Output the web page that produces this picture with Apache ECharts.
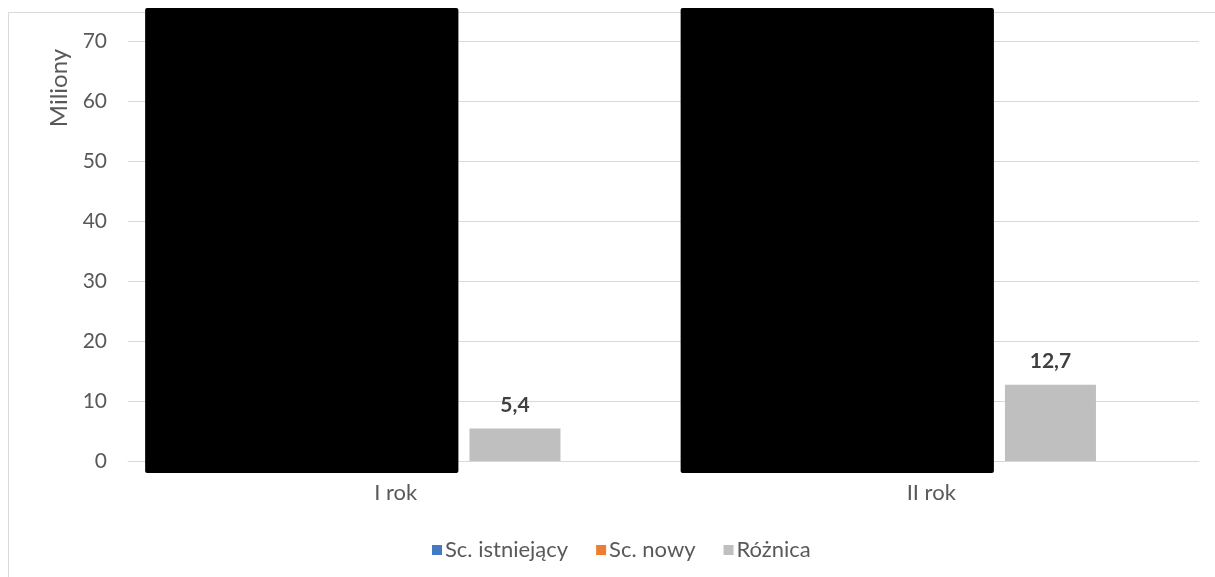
<!DOCTYPE html>
<html>
<head>
<meta charset="utf-8">
<title>Sc. istniejący / Sc. nowy / Różnica</title>
<script src="https://cdn.jsdelivr.net/npm/echarts@6/dist/echarts.min.js"></script>
<style>
  html, body { margin: 0; padding: 0; background: #ffffff; }
  #chart { width: 1215px; height: 577px; }
</style>
</head>
<body>
<div id="chart"></div>
<script>
// Years on the category axis
const categories = ['I rok', 'II rok'];
// Scenario values are not disclosed (covered by black boxes)
const existingScenario = [null, null];
const newScenario = [null, null];
// Difference between the scenarios, in millions
const difference = [5.4, 12.7];
// Value axis ticks
const yMin = 0, yMax = 70, yStep = 10;

const FONT = 'Lato, "Open Sans", sans-serif';
const TEXT = '#595959';
const GRID = '#d9d9d9';

const chart = echarts.init(document.getElementById('chart'), null, { renderer: 'canvas' });

// Black covering boxes spanning the first two bars of each year
function renderCover(params, api) {
  const idx = api.value(0);
  const c0 = api.coord([idx, 0]);
  const band = api.size([1, 0])[0];
  const left = c0[0] - band * 0.468;
  const right = c0[0] + band * 0.117;
  const top = api.coord([idx, 75.5])[1];
  const bottom = api.coord([idx, -2])[1];
  return {
    type: 'rect',
    shape: { x: left, y: top, width: right - left, height: bottom - top, r: 2 },
    style: { fill: '#000000' }
  };
}

chart.setOption({
  animation: false,
  textStyle: { fontFamily: FONT },
  graphic: [
    {
      type: 'rect', z: 0, silent: true,
      shape: { x: 8.5, y: 12.5, width: 1240, height: 600 },
      style: { fill: 'none', stroke: GRID, lineWidth: 1 }
    },
    {
      type: 'text', z: 5, silent: true,
      x: 59, y: 88, rotation: Math.PI / 2,
      style: {
        text: 'Miliony', fill: TEXT, font: '24px ' + FONT,
        align: 'center', verticalAlign: 'middle'
      }
    }
  ],
  grid: { left: 128, right: 16, top: 41, bottom: 116, containLabel: false },
  legend: {
    data: ['Sc. istniejący', 'Sc. nowy', 'Różnica'],
    left: 427, top: 534,
    itemWidth: 10, itemHeight: 10, itemGap: 28,
    icon: 'rect',
    textStyle: { color: TEXT, fontSize: 22, fontFamily: FONT, padding: [0, 0, 0, -2] }
  },
  xAxis: {
    type: 'category',
    data: categories,
    axisTick: { show: false },
    axisLine: { lineStyle: { color: GRID, width: 1 } },
    axisLabel: { color: TEXT, fontSize: 22, margin: 21, fontFamily: FONT }
  },
  yAxis: {
    type: 'value',
    min: yMin, max: yMax, interval: yStep,
    axisLine: { show: false },
    axisTick: { show: false },
    axisLabel: { color: TEXT, fontSize: 21, margin: 21, fontFamily: FONT },
    splitLine: { lineStyle: { color: GRID, width: 1 } }
  },
  series: [
    {
      name: 'Sc. istniejący', type: 'bar', data: existingScenario,
      barWidth: 91, barGap: '31%',
      itemStyle: { color: '#4479C3' }
    },
    {
      name: 'Sc. nowy', type: 'bar', data: newScenario,
      barWidth: 91, barGap: '31%',
      itemStyle: { color: '#ED7D31' }
    },
    {
      name: 'Różnica', type: 'bar', data: difference,
      barWidth: 91, barGap: '31%',
      itemStyle: { color: '#BFBFBF' },
      label: {
        show: true, position: 'top', distance: 13,
        color: '#404040', fontSize: 21, fontWeight: 'bold', fontFamily: FONT,
        formatter: p => p.value.toFixed(1).replace('.', ',')
      }
    },
    {
      name: 'cover', type: 'custom', z: 10, clip: false, silent: true,
      data: categories.map((c, i) => [i]),
      renderItem: renderCover
    }
  ]
});
</script>
</body>
</html>
